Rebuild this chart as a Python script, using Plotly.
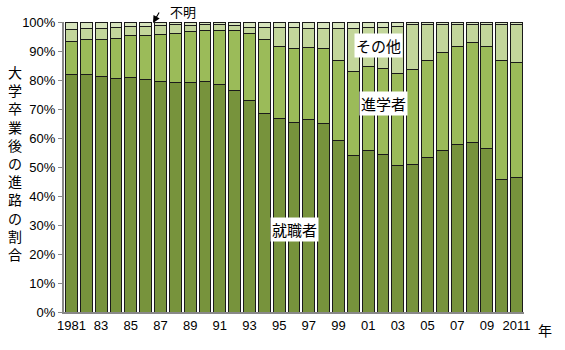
import plotly.graph_objects as go

years = list(range(1981, 2012))

shushoku = [82.0, 82.0, 81.3, 80.6, 80.8, 80.2, 79.6, 79.2, 79.2, 79.4,
            78.3, 76.3, 72.8, 68.5, 66.7, 65.4, 66.4, 65.0, 59.1, 53.9,
            55.6, 54.2, 50.5, 50.9, 53.2, 55.6, 57.7, 58.5, 56.3, 45.8, 46.4]
shingaku = [11.2, 12.1, 12.7, 13.8, 14.7, 15.3, 16.2, 16.9, 17.6, 17.7,
            18.9, 20.7, 23.2, 25.5, 24.8, 25.6, 24.8, 25.8, 27.6, 29.2,
            29.2, 29.8, 31.7, 32.8, 33.5, 34.0, 33.8, 34.5, 35.2, 40.9, 39.6]
sonota = [4.2, 3.7, 3.9, 3.8, 3.1, 3.1, 2.9, 2.9, 2.0, 1.9,
          1.8, 1.7, 2.2, 4.2, 6.7, 7.0, 6.6, 7.0, 10.9, 14.8,
          13.4, 14.2, 16.1, 15.3, 12.3, 9.4, 7.8, 6.3, 7.5, 12.3, 13.0]
fumei = [2.6, 2.2, 2.1, 1.8, 1.4, 1.4, 1.3, 1.0, 1.2, 1.0,
         1.0, 1.3, 1.8, 1.8, 1.8, 2.0, 2.2, 2.2, 2.4, 2.1,
         1.8, 1.8, 1.7, 1.0, 1.0, 1.0, 0.7, 0.7, 1.0, 1.0, 1.0]

tick_years = list(range(1981, 2012, 2))
tick_labels = ["1981", "83", "85", "87", "89", "91", "93", "95", "97", "99",
               "01", "03", "05", "07", "09", "2011"]
y_ticks = list(range(0, 101, 10))

series = [
    ("就職者", shushoku, "#77933C"),
    ("進学者", shingaku, "#9BBB59"),
    ("その他", sonota, "#C3D69B"),
    ("不明", fumei, "#D7E4BD"),
]

fig = go.Figure()
for name, vals, col in series:
    fig.add_trace(go.Bar(
        x=years, y=vals, name=name,
        marker=dict(color=col, line=dict(color="#1a1a1a", width=1)),
        hoverinfo="skip",
    ))

jp = "Noto Sans CJK JP"
num_font = "Liberation Sans, Noto Sans CJK JP"

fig.update_layout(
    width=565, height=350,
    barmode="stack", bargap=0.2,
    showlegend=False,
    plot_bgcolor="white", paper_bgcolor="white",
    margin=dict(l=64, r=41, t=22, b=38, pad=0),
    font=dict(family=num_font, size=13, color="black"),
    xaxis=dict(
        range=[1980.5, 2011.5],
        tickmode="array", tickvals=tick_years, ticktext=tick_labels,
        showline=True, linecolor="#888888", linewidth=2,
        ticks="", showgrid=False, zeroline=False,
        tickfont=dict(family=num_font, size=13),
    ),
    yaxis=dict(
        range=[0, 100],
        tickmode="array", tickvals=y_ticks,
        ticktext=[f"{v}%" for v in y_ticks],
        showline=True, linecolor="#888888", linewidth=2,
        ticks="outside", ticklen=4, tickcolor="#888888",
        showgrid=False, zeroline=False,
        tickfont=dict(family=num_font, size=13),
    ),
)

ytitle = "<br>".join(list("大学卒業後の進路の割合"))
fig.add_annotation(xref="paper", yref="paper", x=-0.1065, y=0.5155,
                   text=ytitle, showarrow=False, xanchor="center", yanchor="middle",
                   font=dict(family=jp, size=14, color="black"))

fig.add_annotation(xref="paper", yref="paper", x=1.0457, y=-0.062,
                   text="年", showarrow=False, xanchor="center", yanchor="middle",
                   font=dict(family=jp, size=14, color="black"))

label_font = dict(family=jp, size=15, color="black")
fig.add_annotation(x=2001.7, y=92.0, text="その他", showarrow=False,
                   bgcolor="white", font=label_font, borderpad=1)
fig.add_annotation(x=2002.0, y=72.0, text="進学者", showarrow=False,
                   bgcolor="white", font=label_font, borderpad=1)
fig.add_annotation(x=1996.0, y=28.6, text="就職者", showarrow=False,
                   bgcolor="white", font=label_font, borderpad=1)

# 不明 pointer
fig.add_annotation(xref="paper", yref="paper", x=0.1935, y=0.9966,
                   ax=7, ay=-12, text="", showarrow=True,
                   arrowhead=2, arrowsize=1.3, arrowwidth=1.1, arrowcolor="black")
fig.add_annotation(xref="paper", yref="paper", x=0.2587, y=1.0379,
                   text="不明", showarrow=False, xanchor="center", yanchor="middle",
                   font=dict(family=jp, size=13, color="black"))

fig.write_html("out.html")
